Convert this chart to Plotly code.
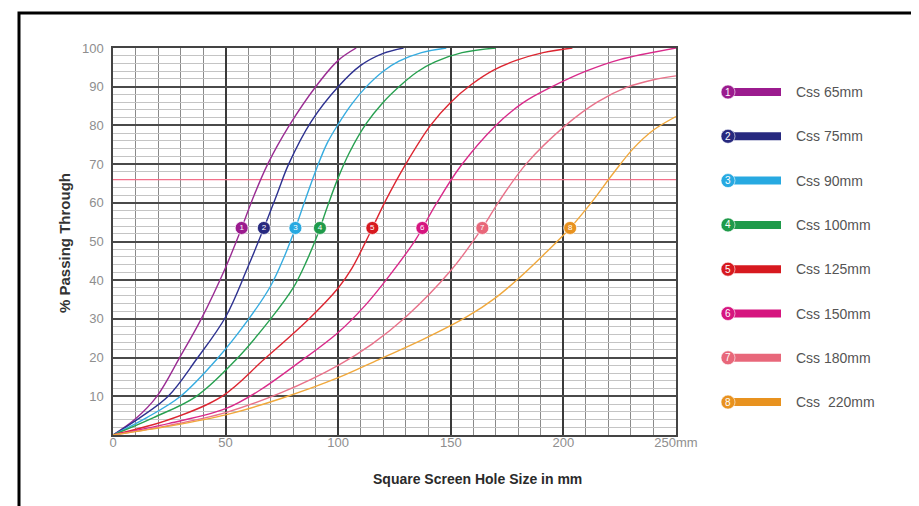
import numpy as np
import plotly.graph_objects as go

# ---------------- data ----------------
series_names = ["Css 65mm", "Css 75mm", "Css 90mm", "Css 100mm",
                "Css 125mm", "Css 150mm", "Css 180mm", "Css  220mm"]
series_numbers = ["1", "2", "3", "4", "5", "6", "7", "8"]

css65_x = [0, 10, 19.5, 29.6, 39.2, 50, 56.8, 62, 68.7, 78.3, 90, 100, 108]
css65_y = [0, 4.2, 10, 20, 30, 43.3, 53, 61, 70, 80, 90, 96.8, 100]

css75_x = [0, 12, 24.5, 37, 50, 59.6, 67.7, 73, 78, 88, 100, 110, 120, 129]
css75_y = [0, 4.5, 10, 19.5, 30.5, 43, 54.5, 62.5, 70, 81, 90, 95.5, 98.6, 100]

css90_x = [0, 15, 30, 46, 60.3, 70, 76, 81, 85.5, 90.5, 95, 100, 106, 112, 120, 127, 137, 148]
css90_y = [0, 4.5, 10, 19.5, 30, 38.5, 46, 53.5, 61, 69, 75.3, 80.3, 85.5, 89.7, 94, 96.6, 98.8, 100]

css100_x = [0, 18, 37, 54.7, 70, 80, 86, 91, 95.5, 100, 105, 112.5, 120, 127, 135, 143, 155, 170]
css100_y = [0, 4.5, 10, 19.5, 30, 38, 45, 52, 59.5, 66.5, 73, 80.5, 86, 90, 93.8, 96.4, 98.8, 100]

css125_x = [0, 25, 48.4, 67, 87, 100, 106, 111.4, 116, 121, 130, 141, 150, 159, 169, 179, 191, 204]
css125_y = [0, 4, 10, 19.5, 30, 38, 43, 49, 54.5, 60.5, 70, 80, 86, 90.5, 94.3, 96.8, 98.8, 100]

css150_x = [0, 25, 50, 65, 82, 100, 112, 122.5, 134.4, 143.3, 154.4, 170, 182, 195, 210, 225, 250]
css150_y = [0, 3, 6.8, 11.5, 18.5, 26.5, 33.5, 41, 50.5, 59.5, 69.5, 80, 85.8, 90, 94, 97, 100]

css180_x = [0, 25, 50, 75, 100, 115, 130, 150, 164, 171, 183.4, 201, 215, 228, 240, 250]
css180_y = [0, 2.5, 5.8, 11, 18, 23.5, 30.5, 42.5, 53.5, 60, 70, 80, 86, 89.8, 91.8, 92.8]

css220_x = [0, 25, 50, 75, 100, 118, 137, 157, 170, 180.4, 192, 203, 213, 222, 231, 240, 250]
css220_y = [0, 2.3, 5.2, 9.5, 14.8, 19.5, 24.5, 30.5, 35.5, 40.6, 47, 53.5, 60.5, 67.5, 74, 78.8, 82.3]

reference_line_y = 66
number_marker_level = 53.5

x_tick_values = [0, 50, 100, 150, 200, 250]
x_tick_labels = ["0", "50", "100", "150", "200", "250mm"]
y_tick_values = [10, 20, 30, 40, 50, 60, 70, 80, 90, 100]
y_tick_labels = ["10", "20", "30", "40", "50", "60", "70", "80", "90", "100"]

# ---------------- styles / layout constants ----------------
curve_colors = ["#9a2c93", "#2d3190", "#35ace0", "#27a050",
                "#dc2530", "#d92a8a", "#e9728a", "#f0a83c"]
legend_colors = ["#9b1b8e", "#27297f", "#27a9e1", "#1f9a4a",
                 "#d7191f", "#d6157f", "#e8677a", "#e8921f"]

W, H = 919, 506
L, R, T, B = 105, 251, 40, 79
PW, PH = W - L - R, H - T - B


def px2x(px):
    return (px - L) / PW


def py2y(py):
    return (H - B - py) / PH


xs = [css65_x, css75_x, css90_x, css100_x, css125_x, css150_x, css180_x, css220_x]
ys = [css65_y, css75_y, css90_y, css100_y, css125_y, css150_y, css180_y, css220_y]

fig = go.Figure()

# reference horizontal line
fig.add_trace(go.Scatter(x=[0, 250], y=[reference_line_y, reference_line_y],
                         mode="lines", line=dict(color="#f2708a", width=1.3),
                         hoverinfo="skip", showlegend=False))

for i in range(8):
    fig.add_trace(go.Scatter(x=xs[i], y=ys[i], mode="lines",
                             line=dict(color=curve_colors[i], width=1.4, shape="spline", smoothing=1.0),
                             name=series_names[i], showlegend=False))

# numbered markers on the curves
mx = [float(np.interp(number_marker_level, ys[i], xs[i])) for i in range(8)]
fig.add_trace(go.Scatter(x=mx, y=[number_marker_level] * 8, mode="markers+text",
                         marker=dict(size=13, color=legend_colors,
                                     line=dict(color="rgba(255,255,255,0.7)", width=1)),
                         text=series_numbers, textposition="middle center",
                         textfont=dict(color="white", size=8, family="Liberation Sans"),
                         showlegend=False, hoverinfo="skip"))

shapes = []
annotations = []

# legend
LEG_TOP = 84
LEG_STEP = 44.3
for i in range(8):
    cy = LEG_TOP + LEG_STEP * i
    shapes.append(dict(type="rect", xref="paper", yref="paper",
                       x0=px2x(720), x1=px2x(773), y0=py2y(cy + 4), y1=py2y(cy - 4),
                       fillcolor=legend_colors[i], line=dict(width=0)))
    shapes.append(dict(type="circle", xref="paper", yref="paper",
                       x0=px2x(713), x1=px2x(727), y0=py2y(cy + 7), y1=py2y(cy - 7),
                       fillcolor=legend_colors[i], line=dict(color="rgba(255,255,255,0.6)", width=1)))
    annotations.append(dict(xref="paper", yref="paper", x=px2x(720), y=py2y(cy),
                            text=series_numbers[i], showarrow=False,
                            font=dict(color="white", size=10, family="Liberation Sans"),
                            xanchor="center", yanchor="middle"))
    annotations.append(dict(xref="paper", yref="paper", x=px2x(786), y=py2y(cy),
                            text=series_names[i].replace("  ", "&nbsp; "), showarrow=False,
                            font=dict(color="#555555", size=14, family="Liberation Sans"),
                            xanchor="left", yanchor="middle"))

# axis titles
annotations.append(dict(xref="paper", yref="paper", x=px2x(56), y=py2y(235),
                        text="<b>% Passing Through</b>", showarrow=False, textangle=-90,
                        font=dict(color="#333333", size=15, family="Liberation Sans"),
                        xanchor="center", yanchor="middle"))
annotations.append(dict(xref="paper", yref="paper", x=px2x(469), y=py2y(471),
                        text="<b>Square Screen Hole Size in mm</b>", showarrow=False,
                        font=dict(color="#2a2a2a", size=14, family="Liberation Sans"),
                        xanchor="center", yanchor="middle"))

# outer frame
shapes.append(dict(type="rect", xref="paper", yref="paper",
                   x0=px2x(11), x1=px2x(916), y0=py2y(500), y1=py2y(5),
                   line=dict(color="black", width=3), fillcolor="rgba(0,0,0,0)", layer="above"))
shapes.append(dict(type="rect", xref="paper", yref="paper",
                   x0=px2x(9), x1=px2x(918), y0=py2y(506), y1=py2y(498),
                   line=dict(width=0), fillcolor="black", layer="above"))

fig.update_layout(
    width=W, height=H,
    margin=dict(l=L, r=R, t=T, b=B),
    paper_bgcolor="white", plot_bgcolor="white",
    shapes=shapes, annotations=annotations,
    showlegend=False,
    font=dict(family="Liberation Sans"),
)

fig.update_xaxes(range=[0, 250], tickvals=x_tick_values, ticktext=x_tick_labels,
                 showgrid=True, gridcolor="#3a3a3a", gridwidth=1.5,
                 minor=dict(dtick=10, tick0=0, showgrid=True, gridcolor="#8a8a8a", gridwidth=1),
                 showline=True, linecolor="#444444", linewidth=1.5, mirror=True,
                 zeroline=False, ticks="", ticklabelstandoff=-5,
                 tickfont=dict(color="#8e8e8e", size=13, family="Liberation Sans"))
fig.update_yaxes(range=[0, 100], tickvals=y_tick_values, ticktext=y_tick_labels,
                 showgrid=True, gridcolor="#4a4a4a", gridwidth=1.5,
                 minor=dict(dtick=2, tick0=0, showgrid=True, gridcolor="#c4c4c4", gridwidth=1),
                 showline=True, linecolor="#444444", linewidth=1.5, mirror=True,
                 zeroline=False, ticks="", ticklabelstandoff=5,
                 tickfont=dict(color="#8e8e8e", size=13, family="Liberation Sans"))

fig.write_html("out.html")
